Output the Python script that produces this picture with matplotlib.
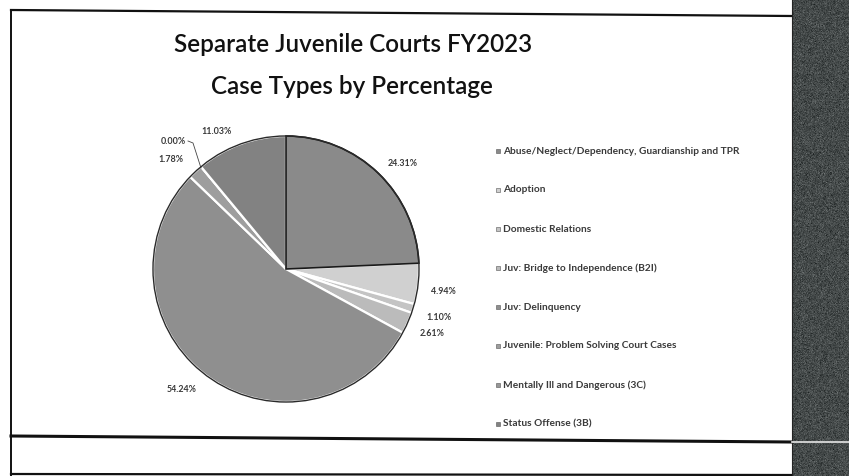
import numpy as np
import matplotlib.pyplot as plt
from matplotlib.patches import Circle, Rectangle

categories = [
    "Abuse/Neglect/Dependency, Guardianship and TPR",
    "Adoption",
    "Domestic Relations",
    "Juv: Bridge to Independence (B2I)",
    "Juv: Delinquency",
    "Juvenile: Problem Solving Court Cases",
    "Mentally Ill and Dangerous (3C)",
    "Status Offense (3B)",
]
percentages = [24.31, 4.94, 1.10, 2.61, 54.24, 1.78, 0.00, 11.03]
grays = ["#8a8a8a", "#d0d0d0", "#c4c4c4", "#bbbbbb", "#8f8f8f", "#9e9e9e", "#979797", "#828282"]

# where each percentage label sits (pixels from top-left)
label_xy = [(403, 164), (443, 291), (439, 318), (432, 333),
            (182, 390), (171, 160), (173, 141), (217, 131)]

W, H = 849, 476
fig = plt.figure(figsize=(W / 100, H / 100), dpi=100)
ax = fig.add_axes([0, 0, 1, 1])

def py(y):
    return H - y

cx, cy, r = 286, py(269), 133
wedges, _ = ax.pie(percentages, colors=grays, startangle=90, counterclock=False,
                   center=(cx, cy), radius=r,
                   wedgeprops=dict(edgecolor="white", linewidth=1.6))
wedges[0].set_edgecolor("#1a1a1a")
wedges[0].set_linewidth(1.2)
wedges[0].set_zorder(3)
ax.add_patch(Circle((cx, cy), r, fill=False, edgecolor="#2a2a2a", linewidth=1.0, zorder=4))

lato = "Lato"
for val, (x, y) in zip(percentages, label_xy):
    ax.text(x, py(y), f"{val:.2f}%", fontsize=6.4, fontweight="bold", family=lato,
            color="#3a3a3a", ha="center", va="center")
# leader line for the empty slice label
ax.plot([188, 193, 201], [py(141), py(143), py(168)], color="#444444", lw=0.6)

# legend column
for i, (name, col) in enumerate(zip(categories, grays)):
    y = py(151 + i * 39)
    ax.add_patch(Rectangle((496, y - 2), 4, 4, facecolor=col, edgecolor="#555555", lw=0.4))
    ax.text(503, y, name, fontsize=7.3, fontweight="bold", family=lato,
            color="#3a3a3a", ha="left", va="center")

ax.text(353, py(45), "Separate Juvenile Courts FY2023", fontsize=17.5, fontweight="semibold",
        family=lato, color="#111111", ha="center", va="center")
ax.text(352, py(86), "Case Types by Percentage", fontsize=17.5, fontweight="semibold",
        family=lato, color="#111111", ha="center", va="center")

# slide frame lines
ax.plot([11, 792], [py(10), py(16)], color="#111111", lw=1.6)
ax.plot([11, 11], [py(10), py(476)], color="#111111", lw=1.4)
ax.plot([11, 792], [py(436), py(442)], color="#111111", lw=2.2)
ax.plot([11, 792], [py(474), py(475)], color="#111111", lw=1.6)

# dark textured band on the right
rng = np.random.default_rng(7)
grain = 0.05 * rng.standard_normal((H, W - 792))
tex = np.dstack([0.27 + grain, 0.29 + grain, 0.29 + grain]).clip(0, 1)
ax.imshow(tex, extent=(792, W, 0, H), aspect="auto", interpolation="bilinear", zorder=5)
ax.plot([792, 792], [0, H], color="#222222", lw=0.8, zorder=6)
ax.plot([792, W], [py(442), py(442)], color="#e6e6e6", lw=1.2, zorder=6)

ax.set_xlim(0, W)
ax.set_ylim(0, H)
ax.set_aspect("auto")
ax.axis("off")

fig.savefig("out.png", dpi=100)
